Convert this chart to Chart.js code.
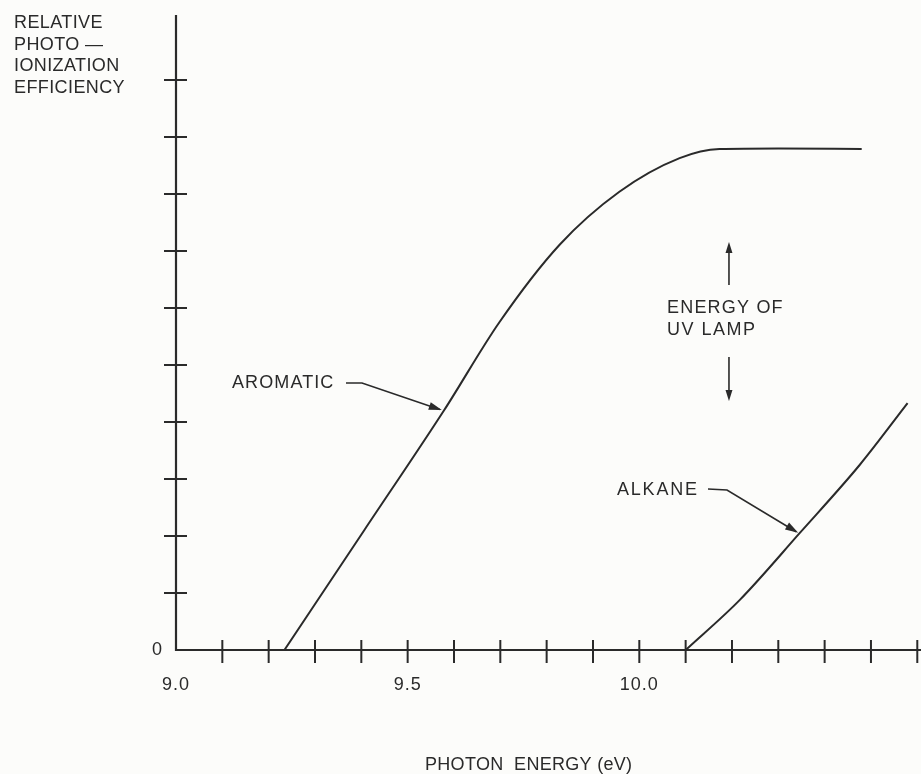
<!DOCTYPE html>
<html><head><meta charset="utf-8">
<script src="https://cdn.jsdelivr.net/npm/chart.js@4.4.0/dist/chart.umd.min.js"></script>
<style>html,body{margin:0;padding:0;background:#fcfcfa;}#c{display:block;}</style>
</head><body>
<canvas id="c" width="921" height="774"></canvas>
<script>
// photon energy (eV) and relative photoionization efficiency (arbitrary tick units)
const aromaticEnergy = [9.234, 9.407, 9.579, 9.698, 9.828, 9.957, 10.087, 10.173, 10.30, 10.480];
const aromaticEff    = [0, 2.11, 4.21, 5.75, 7.11, 8.04, 8.63, 8.79, 8.80, 8.79];
const alkaneEnergy = [10.100, 10.217, 10.346, 10.476, 10.579];
const alkaneEff    = [0, 0.88, 2.05, 3.25, 4.33];
const xTickValues = [9.1, 9.2, 9.3, 9.4, 9.5, 9.6, 9.7, 9.8, 9.9, 10.0, 10.1, 10.2, 10.3, 10.4, 10.5, 10.6];
const xTickLabels = [[9.0, '9.0'], [9.5, '9.5'], [10.0, '10.0']];
const yTickValues = [1, 2, 3, 4, 5, 6, 7, 8, 9, 10];
const lampEnergy = 10.2;

const INK = '#2a2a2a';
const FONT = '"Liberation Sans", Arial, sans-serif';

function arrowHead(ctx, x1, y1, x2, y2, len, wid) {
  const a = Math.atan2(y2 - y1, x2 - x1);
  ctx.beginPath();
  ctx.moveTo(x2, y2);
  ctx.lineTo(x2 - len * Math.cos(a) + wid * Math.sin(a), y2 - len * Math.sin(a) - wid * Math.cos(a));
  ctx.lineTo(x2 - len * Math.cos(a) - wid * Math.sin(a), y2 - len * Math.sin(a) + wid * Math.cos(a));
  ctx.closePath();
  ctx.fill();
}
function txt(ctx, s, x, y, sp) {
  ctx.letterSpacing = sp + 'px';
  ctx.fillText(s, x, y);
}

const decor = {
  id: 'decor',
  afterDatasetsDraw(chart) {
    const ctx = chart.ctx;
    const xs = chart.scales.x, ys = chart.scales.y;
    const X = v => xs.getPixelForValue(v), Y = v => ys.getPixelForValue(v);
    const a = chart.chartArea;
    ctx.save();
    ctx.strokeStyle = INK; ctx.fillStyle = INK;
    // axes
    ctx.lineWidth = 2.2;
    ctx.beginPath();
    ctx.moveTo(a.left, a.top); ctx.lineTo(a.left, a.bottom); ctx.lineTo(a.right, a.bottom);
    ctx.stroke();
    // crossing ticks
    ctx.lineWidth = 2;
    yTickValues.forEach(v => { const y = Y(v); ctx.beginPath(); ctx.moveTo(a.left - 12, y); ctx.lineTo(a.left + 11, y); ctx.stroke(); });
    xTickValues.forEach(v => { const x = X(v); ctx.beginPath(); ctx.moveTo(x, a.bottom - 10); ctx.lineTo(x, a.bottom + 13); ctx.stroke(); });
    // tick labels
    ctx.font = '18px ' + FONT;
    ctx.textAlign = 'center'; ctx.textBaseline = 'middle';
    txt(ctx, '0', a.left - 19, a.bottom, 0);
    xTickLabels.forEach(([v, t]) => txt(ctx, t, X(v), a.bottom + 35, 1));
    // axis titles
    ctx.textAlign = 'left';
    ['RELATIVE', 'PHOTO \u2014', 'IONIZATION', 'EFFICIENCY'].forEach((t, i) => txt(ctx, t, 14, 23 + i * 21.7, 0.4));
    txt(ctx, 'PHOTON  ENERGY (eV)', 425, 765, 0.3);
    // AROMATIC label + leader
    txt(ctx, 'AROMATIC', 232, 383, 1.1);
    ctx.lineWidth = 1.6;
    let tx = X(9.578), ty = Y(4.2);
    ctx.beginPath(); ctx.moveTo(346, 383); ctx.lineTo(362, 383); ctx.lineTo(tx - 4, ty - 1); ctx.stroke();
    arrowHead(ctx, 362, 383, tx - 2, ty - 0.5, 13, 4);
    // ALKANE label + leader
    txt(ctx, 'ALKANE', 617, 490, 1.8);
    tx = X(10.345); ty = Y(2.04);
    ctx.beginPath(); ctx.moveTo(708, 489); ctx.lineTo(727, 490); ctx.lineTo(tx - 3, ty - 2); ctx.stroke();
    arrowHead(ctx, 727, 490, tx - 1, ty - 1, 13, 4);
    // UV lamp energy arrows
    const lx = X(lampEnergy) - 3;
    ctx.beginPath(); ctx.moveTo(lx, 285); ctx.lineTo(lx, 250); ctx.stroke();
    arrowHead(ctx, lx, 285, lx, 242, 11, 3.5);
    ctx.beginPath(); ctx.moveTo(lx, 357); ctx.lineTo(lx, 393); ctx.stroke();
    arrowHead(ctx, lx, 357, lx, 401, 11, 3.5);
    txt(ctx, 'ENERGY OF', 667, 308, 1.2);
    txt(ctx, 'UV LAMP', 667, 330, 1.5);
    ctx.restore();
  }
};

const mk = (xs, ys) => xs.map((x, i) => ({ x, y: ys[i] }));

new Chart(document.getElementById('c'), {
  type: 'line',
  data: {
    datasets: [
      { label: 'Aromatic', data: mk(aromaticEnergy, aromaticEff), borderColor: INK, borderWidth: 2, pointRadius: 0, cubicInterpolationMode: 'monotone', fill: false },
      { label: 'Alkane', data: mk(alkaneEnergy, alkaneEff), borderColor: INK, borderWidth: 2, pointRadius: 0, cubicInterpolationMode: 'monotone', fill: false }
    ]
  },
  options: {
    responsive: false,
    animation: false,
    layout: { padding: { left: 176, right: 0, top: 15, bottom: 124 } },
    plugins: { legend: { display: false }, tooltip: { enabled: false } },
    scales: {
      x: { type: 'linear', min: 9.0, max: 10.608, display: false },
      y: { type: 'linear', min: 0, max: 11.14, display: false }
    }
  },
  plugins: [decor]
});
</script>
</body></html>
